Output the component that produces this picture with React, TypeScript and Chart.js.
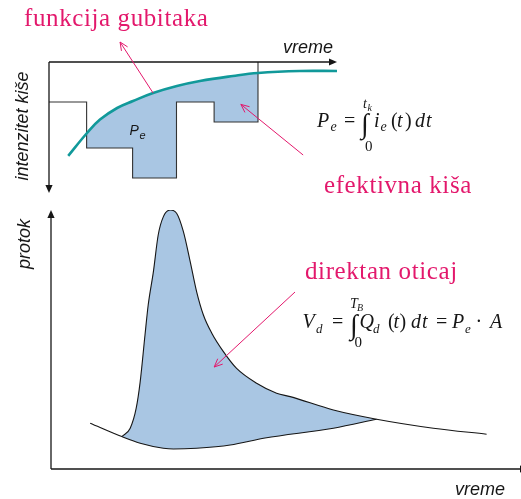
import React, { useEffect, useRef } from "react";
import { Chart, registerables } from "chart.js";

Chart.register(...registerables);

// ---------------- Top panel: rainfall (hyetograph) and loss function ----------------
// times (h) where the rain intensity changes (step starts), last = end of rain
const rainStepTimes = [0, 0.9, 2.0, 3.05, 3.95, 5.0];
// intensity held from each step time to the next
const rainIntensity = [2.0, 4.3, 5.8, 2.0, 3.0, 0];
// loss (infiltration) function
const lossTimes = [0.46, 0.91, 1.22, 1.63, 2.01, 2.49, 3.06, 3.61, 4.4, 5.0, 6.0, 6.89];
const lossRate = [4.69, 3.55, 2.88, 2.3, 1.95, 1.55, 1.2, 0.95, 0.7, 0.55, 0.45, 0.45];

// ---------------- Bottom panel: hydrograph and baseflow ----------------
const flowTimes = [1.77, 1.98, 2.13, 2.23, 2.35, 2.43, 2.56, 2.68, 2.81, 2.98, 3.14, 3.31, 3.48, 3.64, 3.81, 4.02, 4.31, 4.64, 5.14, 5.64, 5.98, 7.06, 8.14, 9.56, 10.89];
const flowRate = [1.62, 2.04, 3.04, 4.37, 6.7, 8.2, 9.87, 11.7, 12.62, 12.95, 12.79, 11.87, 10.37, 8.87, 7.7, 6.79, 5.87, 5.03, 4.29, 3.79, 3.62, 2.95, 2.49, 2.04, 1.74];
const baseTimes = [0.98, 1.77, 2.23, 2.81, 3.06, 3.64, 4.48, 5.35, 7.06, 8.14];
const baseRate = [2.29, 1.62, 1.29, 1.04, 1.0, 1.04, 1.2, 1.55, 2.04, 2.49];

// axis extents (data units)
const topTimeMax = 6.89;
const topIntensityMax = 6.55;
const bottomTimeMax = 11.75;
const bottomFlowMax = 12.95;

// annotation arrows in data units: [tailX, tailY, headX, headY]
const lossArrow = [2.49, 1.55, 1.7, -1.0];
const rainArrow = [6.08, 4.65, 4.59, 2.12];
const runoffArrow = [6.1, 8.85, 4.08, 5.1];

const PINK = "#e3186c";
const TEAL = "#11999a";
const BLUE = "#a9c6e3";
const INK = "#161616";

const SERIF = "'Liberation Serif', 'Times New Roman', serif";
const SANS = "'Liberation Sans', Arial, sans-serif";

function zip(xs: number[], ys: number[]) {
  return xs.map((x, i) => ({ x, y: ys[i] }));
}

function solidArrow(ctx: CanvasRenderingContext2D, x1: number, y1: number, x2: number, y2: number, len = 8, half = 3.6) {
  const a = Math.atan2(y2 - y1, x2 - x1);
  const bx = x2 - len * Math.cos(a);
  const by = y2 - len * Math.sin(a);
  ctx.beginPath();
  ctx.moveTo(x1, y1);
  ctx.lineTo(bx, by);
  ctx.stroke();
  ctx.beginPath();
  ctx.moveTo(x2, y2);
  ctx.lineTo(bx + half * Math.sin(a), by - half * Math.cos(a));
  ctx.lineTo(bx - half * Math.sin(a), by + half * Math.cos(a));
  ctx.closePath();
  ctx.fill();
}

function openArrow(ctx: CanvasRenderingContext2D, x1: number, y1: number, x2: number, y2: number, len = 9, spread = 0.42) {
  const a = Math.atan2(y2 - y1, x2 - x1);
  ctx.beginPath();
  ctx.moveTo(x1, y1);
  ctx.lineTo(x2, y2);
  ctx.moveTo(x2 - len * Math.cos(a - spread), y2 - len * Math.sin(a - spread));
  ctx.lineTo(x2, y2);
  ctx.lineTo(x2 - len * Math.cos(a + spread), y2 - len * Math.sin(a + spread));
  ctx.stroke();
}

type Tok = { t: string; f: string; x: number; y: number };

function drawTokens(ctx: CanvasRenderingContext2D, toks: Tok[], dy: number) {
  ctx.fillStyle = INK;
  ctx.textAlign = "left";
  ctx.textBaseline = "alphabetic";
  for (const k of toks) {
    ctx.font = k.f;
    ctx.fillText(k.t, k.x, k.y + dy);
  }
}

function rotatedText(ctx: CanvasRenderingContext2D, text: string, x: number, y: number, font: string) {
  ctx.save();
  ctx.translate(x, y);
  ctx.rotate(-Math.PI / 2);
  ctx.font = font;
  ctx.textAlign = "center";
  ctx.textBaseline = "alphabetic";
  ctx.fillText(text, 0, 0);
  ctx.restore();
}

function pinkLabel(ctx: CanvasRenderingContext2D, text: string, x: number, y: number) {
  ctx.save();
  ctx.fillStyle = PINK;
  ctx.font = `25px ${SERIF}`;
  (ctx as any).letterSpacing = "0.6px";
  ctx.textAlign = "left";
  ctx.textBaseline = "alphabetic";
  ctx.fillText(text, x, y);
  ctx.restore();
}

const I20 = `italic 20px ${SERIF}`;
const R20 = `20px ${SERIF}`;
const I14 = `italic 14px ${SERIF}`;
const I13 = `italic 13px ${SERIF}`;
const I10 = `italic 10px ${SERIF}`;
const R15 = `15px ${SERIF}`;
const R28 = `28px ${SERIF}`;

const formulaPe: Tok[] = [
  { t: "P", f: I20, x: 317, y: 127 },
  { t: "e", f: I14, x: 330.5, y: 130.5 },
  { t: "=", f: R20, x: 344, y: 127 },
  { t: "∫", f: R28, x: 361, y: 133 },
  { t: "t", f: I14, x: 363, y: 108 },
  { t: "k", f: I10, x: 367.5, y: 111 },
  { t: "0", f: R15, x: 365, y: 151 },
  { t: "i", f: I20, x: 374, y: 127 },
  { t: "e", f: I14, x: 380.5, y: 130.5 },
  { t: "(", f: R20, x: 391, y: 127 },
  { t: "t", f: I20, x: 397, y: 127 },
  { t: ")", f: R20, x: 405, y: 127 },
  { t: "d", f: I20, x: 415, y: 127 },
  { t: "t", f: I20, x: 426, y: 127 },
];

const formulaVd: Tok[] = [
  { t: "V", f: I20, x: 302.5, y: 328 },
  { t: "d", f: I13, x: 316, y: 333 },
  { t: "=", f: R20, x: 332, y: 328 },
  { t: "∫", f: R28, x: 350, y: 334 },
  { t: "T", f: I14, x: 350, y: 308 },
  { t: "B", f: I10, x: 357, y: 311 },
  { t: "0", f: R15, x: 354.5, y: 347 },
  { t: "Q", f: I20, x: 359.5, y: 328 },
  { t: "d", f: I13, x: 373, y: 333 },
  { t: "(", f: R20, x: 388, y: 328 },
  { t: "t", f: I20, x: 393.5, y: 328 },
  { t: ")", f: R20, x: 399.5, y: 328 },
  { t: "d", f: I20, x: 411, y: 328 },
  { t: "t", f: I20, x: 422, y: 328 },
  { t: "=", f: R20, x: 436, y: 328 },
  { t: "P", f: I20, x: 452, y: 328 },
  { t: "e", f: I13, x: 465, y: 333 },
  { t: "·", f: R20, x: 475.5, y: 328 },
  { t: "A", f: I20, x: 490, y: 328 },
];

const topDecor = {
  id: "topDecor",
  afterDraw(chart: any) {
    const { ctx, chartArea: a, scales } = chart;
    const xs = scales.x;
    const ys = scales.y;
    ctx.save();
    // axes
    ctx.strokeStyle = INK;
    ctx.fillStyle = INK;
    ctx.lineWidth = 1.3;
    solidArrow(ctx, a.left, a.top, a.right, a.top);
    solidArrow(ctx, a.left, a.top, a.left, a.bottom);

    // pink annotation arrows
    ctx.strokeStyle = PINK;
    ctx.lineWidth = 1;
    const p = (v: number[]) => [xs.getPixelForValue(v[0]), ys.getPixelForValue(v[1]), xs.getPixelForValue(v[2]), ys.getPixelForValue(v[3])];
    const a1 = p(lossArrow);
    openArrow(ctx, a1[0], a1[1], a1[2], a1[3]);
    const a2 = p(rainArrow);
    openArrow(ctx, a2[0], a2[1], a2[2], a2[3]);

    // labels
    pinkLabel(ctx, "funkcija gubitaka", 24, 26);
    pinkLabel(ctx, "efektivna kiša", 324, 193);

    ctx.fillStyle = INK;
    ctx.font = `italic 18px ${SANS}`;
    ctx.textAlign = "left";
    ctx.textBaseline = "alphabetic";
    ctx.fillText("vreme", 283, 53);
    rotatedText(ctx, "intenzitet kiše", 27.5, 126, `italic 18px ${SANS}`);

    ctx.font = `italic 14px ${SANS}`;
    ctx.fillText("P", 129.5, 135);
    ctx.font = `italic 11px ${SANS}`;
    ctx.fillText("e", 139.5, 139);

    drawTokens(ctx, formulaPe, 0);
    ctx.restore();
  },
};

const bottomDecor = {
  id: "bottomDecor",
  afterDraw(chart: any) {
    const { ctx, chartArea: a, scales } = chart;
    const xs = scales.x;
    const ys = scales.y;
    const off = -200;
    ctx.save();
    ctx.strokeStyle = INK;
    ctx.fillStyle = INK;
    ctx.lineWidth = 1.3;
    solidArrow(ctx, a.left, a.bottom, a.left, a.top);
    solidArrow(ctx, a.left, a.bottom, a.right + 7, a.bottom);

    ctx.strokeStyle = PINK;
    ctx.lineWidth = 1;
    const v = runoffArrow;
    openArrow(ctx, xs.getPixelForValue(v[0]), ys.getPixelForValue(v[1]), xs.getPixelForValue(v[2]), ys.getPixelForValue(v[3]));

    pinkLabel(ctx, "direktan oticaj", 305, 278.5 + off);

    ctx.fillStyle = INK;
    ctx.font = `italic 18px ${SANS}`;
    ctx.textAlign = "left";
    ctx.textBaseline = "alphabetic";
    ctx.fillText("vreme", 455, 495 + off);
    rotatedText(ctx, "protok", 29.5, 244 + off, `italic 18px ${SANS}`);

    drawTokens(ctx, formulaVd, off);
    ctx.restore();
  },
};

export default function App() {
  const topRef = useRef<HTMLCanvasElement>(null);
  const botRef = useRef<HTMLCanvasElement>(null);

  useEffect(() => {
    const common = {
      responsive: false,
      animation: false as const,
      devicePixelRatio: 1,
      events: [] as any[],
      plugins: {
        legend: { display: false },
        tooltip: { enabled: false },
        title: { display: false },
      },
    };

    const top = new Chart(topRef.current as HTMLCanvasElement, {
      type: "line",
      data: {
        datasets: [
          {
            label: "funkcija gubitaka",
            data: zip(lossTimes, lossRate),
            borderColor: TEAL,
            borderWidth: 2.6,
            pointRadius: 0,
            tension: 0.4,
            fill: false,
          },
          {
            label: "intenzitet kiše",
            data: zip(rainStepTimes, rainIntensity),
            stepped: true,
            borderColor: "#333333",
            borderWidth: 1.1,
            pointRadius: 0,
            fill: { target: 0, above: "rgba(0,0,0,0)", below: BLUE },
          },
        ],
      } as any,
      options: {
        ...common,
        layout: { padding: { left: 49, right: 184, top: 62, bottom: 7 } },
        scales: {
          x: { type: "linear", min: 0, max: topTimeMax, display: false },
          y: { type: "linear", min: 0, max: topIntensityMax, reverse: true, display: false },
        },
      } as any,
      plugins: [topDecor],
    });

    const bot = new Chart(botRef.current as HTMLCanvasElement, {
      type: "line",
      data: {
        datasets: [
          {
            label: "direktan oticaj",
            data: zip(flowTimes, flowRate),
            borderColor: INK,
            borderWidth: 1.1,
            pointRadius: 0,
            cubicInterpolationMode: "monotone",
            fill: false,
          },
          {
            label: "bazni tok",
            data: zip(baseTimes, baseRate),
            borderColor: INK,
            borderWidth: 1.1,
            pointRadius: 0,
            cubicInterpolationMode: "monotone",
            backgroundColor: BLUE,
            fill: { target: 0 },
          },
        ],
      } as any,
      options: {
        ...common,
        layout: { padding: { left: 51, right: 0, top: 10, bottom: 30 } },
        scales: {
          x: { type: "linear", min: 0, max: bottomTimeMax, display: false },
          y: { type: "linear", min: 0, max: bottomFlowMax, display: false },
        },
      } as any,
      plugins: [bottomDecor],
    });

    return () => {
      top.destroy();
      bot.destroy();
    };
  }, []);

  return (
    <div style={{ position: "absolute", left: 0, top: 0, width: 521, height: 499, background: "#ffffff" }}>
      <canvas ref={topRef} width={521} height={200} style={{ position: "absolute", left: 0, top: 0 }} />
      <canvas ref={botRef} width={521} height={299} style={{ position: "absolute", left: 0, top: 200 }} />
    </div>
  );
}
